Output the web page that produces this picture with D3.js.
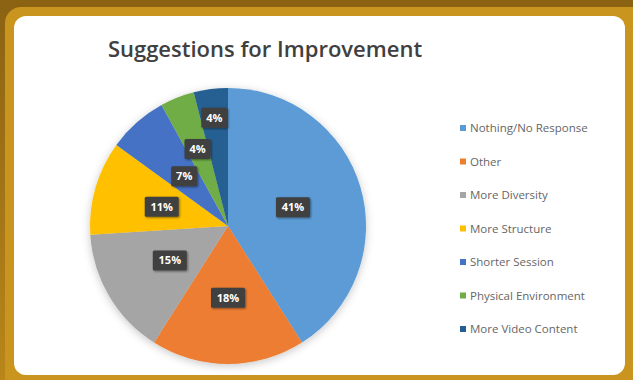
<!DOCTYPE html>
<html>
<head>
<meta charset="utf-8">
<script src="https://cdn.jsdelivr.net/npm/d3@7"></script>
<style>
  body { margin: 0; padding: 0; background: #fff; }
  svg { display: block; }
</style>
</head>
<body>
<svg id="chart" width="633" height="380"></svg>
<script>

// chart data
var categories = ["Nothing/No Response", "Other", "More Diversity", "More Structure",
    "Shorter Session", "Physical Environment", "More Video Content"];
var values = [41, 18, 15, 11, 7, 4, 4];
var colors = ["#5b9bd5", "#ed7d31", "#a5a5a5", "#ffc000", "#4472c4", "#70ad47", "#255e91"];

// how far out each data label sits (fraction of radius)
var labelRadius = [0.49, 0.52, 0.49, 0.5, 0.48, 0.6, 0.79];

var width = 633, height = 380;
var svg = d3.select("#chart");

var defs = svg.append("defs");
var bg = defs.append("linearGradient").attr("id", "bg")
    .attr("x1", 0).attr("y1", 0).attr("x2", 0).attr("y2", 1);
bg.append("stop").attr("offset", "0%").attr("stop-color", "#8a6212");
bg.append("stop").attr("offset", "100%").attr("stop-color", "#b8861a");

var shadow = defs.append("filter").attr("id", "pieShadow")
    .attr("x", "-20%").attr("y", "-20%").attr("width", "140%").attr("height", "140%");
shadow.append("feDropShadow").attr("dx", 0).attr("dy", 2)
    .attr("stdDeviation", 4).attr("flood-color", "#000").attr("flood-opacity", 0.22);

var boxShadow = defs.append("filter").attr("id", "boxShadow")
    .attr("x", "-30%").attr("y", "-30%").attr("width", "160%").attr("height", "160%");
boxShadow.append("feDropShadow").attr("dx", 1).attr("dy", 1)
    .attr("stdDeviation", 1.2).attr("flood-color", "#000").attr("flood-opacity", 0.45);

// frame
svg.append("rect").attr("width", width).attr("height", height).attr("fill", "url(#bg)");
svg.append("rect")
    .attr("x", 5).attr("y", 7).attr("width", 660).attr("height", 400)
    .attr("rx", 16).attr("fill", "#c9951e");
svg.append("rect")
    .attr("x", 14).attr("y", 16).attr("width", 611).attr("height", 359)
    .attr("rx", 12).attr("fill", "#ffffff");

// title
svg.append("text")
    .attr("x", 265).attr("y", 57)
    .attr("text-anchor", "middle")
    .attr("font-family", "'Open Sans', sans-serif")
    .attr("font-weight", 600)
    .attr("font-size", 22)
    .attr("fill", "#404040")
    .text("Suggestions for Improvement");

// pie
var cx = 228, cy = 226, radius = 138;
var g = svg.append("g").attr("transform", "translate(" + cx + "," + cy + ")");

var pie = d3.pie().sort(null).value(function (d) { return d; });
var arcs = pie(values);

var path = d3.arc().outerRadius(radius).innerRadius(0);

g.append("g").attr("filter", "url(#pieShadow)")
    .selectAll("path")
    .data(arcs)
    .enter().append("path")
    .attr("d", path)
    .attr("fill", function (d, i) { return colors[i]; });

var label = g.selectAll(".lbl")
    .data(arcs)
    .enter().append("g")
    .attr("class", "lbl")
    .attr("transform", function (d, i) {
        var r = radius * labelRadius[i];
        var a = (d.startAngle + d.endAngle) / 2;
        return "translate(" + (Math.sin(a) * r) + "," + (-Math.cos(a) * r) + ")";
    });

label.append("rect")
    .attr("x", function (d) { return d.data >= 10 ? -17 : -13; })
    .attr("y", -10)
    .attr("width", function (d) { return d.data >= 10 ? 34 : 26; })
    .attr("height", 20)
    .attr("rx", 1.5)
    .attr("fill", "#404040")
    .attr("filter", "url(#boxShadow)");

label.append("text")
    .attr("text-anchor", "middle")
    .attr("dy", "0.36em")
    .attr("font-family", "'Open Sans', sans-serif")
    .attr("font-weight", 700)
    .attr("font-size", 11)
    .attr("fill", "#ffffff")
    .text(function (d) { return d.data + "%"; });

// legend
var legend = svg.append("g").attr("transform", "translate(460,128)");
var item = legend.selectAll(".leg")
    .data(categories)
    .enter().append("g")
    .attr("class", "leg")
    .attr("transform", function (d, i) { return "translate(0," + (i * 33.5) + ")"; });

item.append("rect")
    .attr("x", 0).attr("y", -3)
    .attr("width", 6).attr("height", 6)
    .attr("fill", function (d, i) { return colors[i]; });

item.append("text")
    .attr("x", 10).attr("dy", "0.35em")
    .attr("font-family", "'Open Sans', sans-serif")
    .attr("font-size", 11.5)
    .attr("fill", "#666666")
    .text(function (d) { return d; });

</script>
</body>
</html>
